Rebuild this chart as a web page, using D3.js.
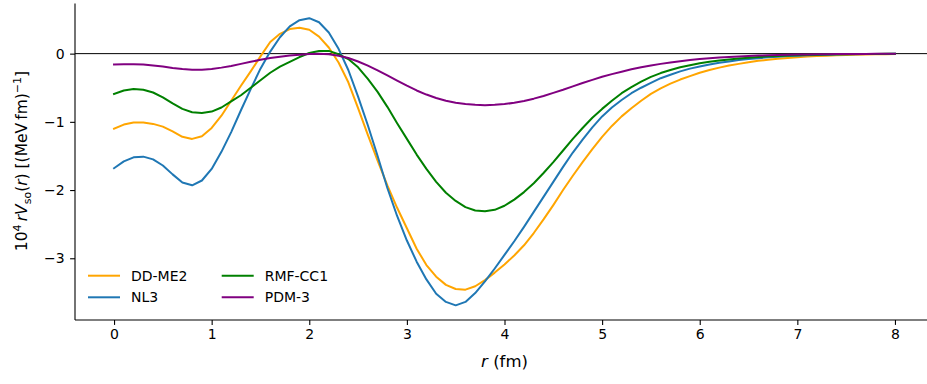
<!DOCTYPE html>
<html><head><meta charset="utf-8">
<script src="https://cdn.jsdelivr.net/npm/d3@7/dist/d3.min.js"></script>
<style>
body{margin:0;background:#fff;}
svg{display:block;font-family:"DejaVu Sans",sans-serif;}
</style></head>
<body><svg id="c" width="927" height="384"></svg>
<script>
// r grid (fm), step 0.1 from 0 to 8
const r = d3.range(0, 81).map(i => +(i * 0.1).toFixed(1));

const ddme2 = [-1.10,-1.04,-1.01,-1.01,-1.03,-1.07,-1.14,-1.22,-1.25,-1.21,
  -1.09,-0.91,-0.69,-0.47,-0.26,-0.04,0.17,0.29,0.36,0.38,
  0.35,0.25,0.09,-0.13,-0.42,-0.80,-1.19,-1.57,-1.93,-2.26,
  -2.56,-2.86,-3.10,-3.27,-3.39,-3.45,-3.46,-3.41,-3.32,-3.21,
  -3.09,-2.96,-2.81,-2.63,-2.43,-2.22,-2.00,-1.79,-1.59,-1.40,
  -1.22,-1.06,-0.92,-0.80,-0.69,-0.59,-0.51,-0.44,-0.38,-0.33,
  -0.28,-0.24,-0.205,-0.175,-0.15,-0.125,-0.105,-0.089,-0.075,-0.063,
  -0.052,-0.043,-0.036,-0.030,-0.024,-0.020,-0.016,-0.013,-0.010,-0.008,-0.006];

const nl3 = [-1.68,-1.58,-1.52,-1.51,-1.55,-1.64,-1.77,-1.89,-1.93,-1.86,
  -1.69,-1.44,-1.15,-0.83,-0.52,-0.22,0.03,0.24,0.40,0.49,
  0.52,0.46,0.31,0.07,-0.24,-0.63,-1.05,-1.50,-1.97,-2.38,
  -2.74,-3.05,-3.31,-3.52,-3.64,-3.69,-3.64,-3.51,-3.34,-3.15,
  -2.95,-2.75,-2.54,-2.32,-2.10,-1.88,-1.66,-1.45,-1.26,-1.08,
  -0.92,-0.79,-0.68,-0.58,-0.50,-0.43,-0.36,-0.31,-0.26,-0.22,
  -0.19,-0.16,-0.135,-0.115,-0.095,-0.08,-0.066,-0.054,-0.044,-0.036,
  -0.030,-0.024,-0.019,-0.016,-0.013,-0.010,-0.008,-0.007,-0.005,-0.004,-0.003];

const rmfcc1 = [-0.59,-0.54,-0.52,-0.53,-0.57,-0.64,-0.73,-0.81,-0.86,-0.87,
  -0.85,-0.79,-0.70,-0.61,-0.50,-0.39,-0.28,-0.19,-0.12,-0.05,
  0.01,0.04,0.04,-0.01,-0.08,-0.20,-0.37,-0.56,-0.78,-1.02,
  -1.25,-1.48,-1.69,-1.88,-2.04,-2.16,-2.25,-2.30,-2.31,-2.29,
  -2.23,-2.14,-2.03,-1.90,-1.75,-1.59,-1.42,-1.25,-1.09,-0.94,
  -0.81,-0.69,-0.58,-0.49,-0.41,-0.34,-0.285,-0.24,-0.20,-0.17,
  -0.14,-0.12,-0.10,-0.085,-0.07,-0.06,-0.05,-0.04,-0.033,-0.027,
  -0.022,-0.018,-0.015,-0.012,-0.010,-0.008,-0.006,-0.005,-0.004,-0.003,-0.002];

const pdm3 = [-0.16,-0.155,-0.155,-0.16,-0.175,-0.19,-0.21,-0.225,-0.235,-0.235,
  -0.225,-0.205,-0.18,-0.15,-0.12,-0.09,-0.065,-0.045,-0.028,-0.015,
  -0.006,-0.003,-0.008,-0.03,-0.065,-0.115,-0.175,-0.245,-0.32,-0.395,
  -0.47,-0.54,-0.60,-0.65,-0.69,-0.72,-0.74,-0.75,-0.755,-0.75,
  -0.74,-0.72,-0.695,-0.66,-0.62,-0.575,-0.53,-0.48,-0.43,-0.385,
  -0.34,-0.30,-0.265,-0.23,-0.20,-0.175,-0.15,-0.13,-0.11,-0.095,
  -0.08,-0.068,-0.058,-0.049,-0.041,-0.035,-0.029,-0.024,-0.020,-0.017,
  -0.014,-0.012,-0.010,-0.008,-0.007,-0.006,-0.005,-0.004,-0.003,-0.003,-0.002];

const seriesNames = ["DD-ME2","NL3","RMF-CC1","PDM-3"];
const seriesColors = ["#ffa500","#1f77b4","#008000","#800080"];
const seriesData = [ddme2, nl3, rmfcc1, pdm3];
const xTicks = [0,1,2,3,4,5,6,7,8];
const yTicks = [0,-1,-2,-3];

const svg = d3.select("#c");
const L = 75, R = 934, T = 3.5, B = 320;
const x = d3.scaleLinear().domain([-0.4, 8.4]).range([L, R]);
const y = d3.scaleLinear().domain([-3.905, 0.735]).range([B, T]);

// zero line
svg.append("line").attr("x1", L).attr("x2", 927).attr("y1", y(0)).attr("y2", y(0))
  .attr("stroke", "#000").attr("stroke-width", 1);

const line = d3.line().x((d, i) => x(r[i])).y(d => y(d));
seriesData.forEach((s, k) => {
  svg.append("path").datum(s).attr("d", line).attr("fill", "none")
    .attr("stroke", seriesColors[k]).attr("stroke-width", 2)
    .attr("stroke-linejoin", "round").attr("stroke-linecap", "square");
});

// axes
const fmt = d => d3.format("d")(d).replace("-", "\u2212");
const xAxis = svg.append("g").attr("transform", `translate(0,${B})`)
  .call(d3.axisBottom(x).tickValues(xTicks).tickFormat(fmt).tickSize(4.9).tickPadding(4.5).tickSizeOuter(0));
const yAxis = svg.append("g").attr("transform", `translate(${L},0)`)
  .call(d3.axisLeft(y).tickValues(yTicks).tickFormat(fmt).tickSize(4.9).tickPadding(5.5).tickSizeOuter(0));
[xAxis, yAxis].forEach(g => {
  g.select(".domain").attr("stroke", "#000").attr("stroke-width", 1.1);
  g.selectAll(".tick line").attr("stroke", "#000").attr("stroke-width", 1.1);
  g.selectAll(".tick text").attr("font-size", 14).attr("fill", "#000")
    .attr("font-family", "DejaVu Sans");
});
yAxis.select(".domain").attr("d", `M0,${B}V${T}`);
xAxis.select(".domain").attr("d", `M${L},0H${R}`);

// x label
const xl = svg.append("text").attr("x", (L + R) / 2).attr("y", 367)
  .attr("text-anchor", "middle").attr("font-size", 16.5);
xl.append("tspan").attr("font-style", "italic").text("r");
xl.append("tspan").text(" (fm)");

// y label
const yl = svg.append("text").attr("transform", `translate(27,161) rotate(-90)`)
  .attr("text-anchor", "middle").attr("font-size", 15.5);
yl.append("tspan").text("10");
yl.append("tspan").attr("font-size", 11).attr("dy", "-6.5").text("4");
yl.append("tspan").attr("dy", "6.5").text("\u2009");
yl.append("tspan").attr("font-style", "italic").text("rV");
yl.append("tspan").attr("font-size", 11).attr("dy", "3.5").text("so");
yl.append("tspan").attr("dy", "-3.5").text("(");
yl.append("tspan").attr("font-style", "italic").text("r");
yl.append("tspan").text(") [(MeV\u2009fm)");
yl.append("tspan").attr("font-size", 11).attr("dy", "-6.5").text("\u22121");
yl.append("tspan").attr("dy", "6.5").text("]");

// legend
const legendPos = [[88, 275.7], [88, 297.3], [221.7, 275.7], [221.7, 297.3]];
seriesNames.forEach((n, k) => {
  const [lx, ly] = legendPos[k];
  svg.append("line").attr("x1", lx).attr("x2", lx + 32).attr("y1", ly).attr("y2", ly)
    .attr("stroke", seriesColors[k]).attr("stroke-width", 2);
  svg.append("text").attr("x", lx + 43).attr("y", ly + 5).attr("font-size", 14)
    .attr("fill", "#000").text(n);
});
</script></body></html>
